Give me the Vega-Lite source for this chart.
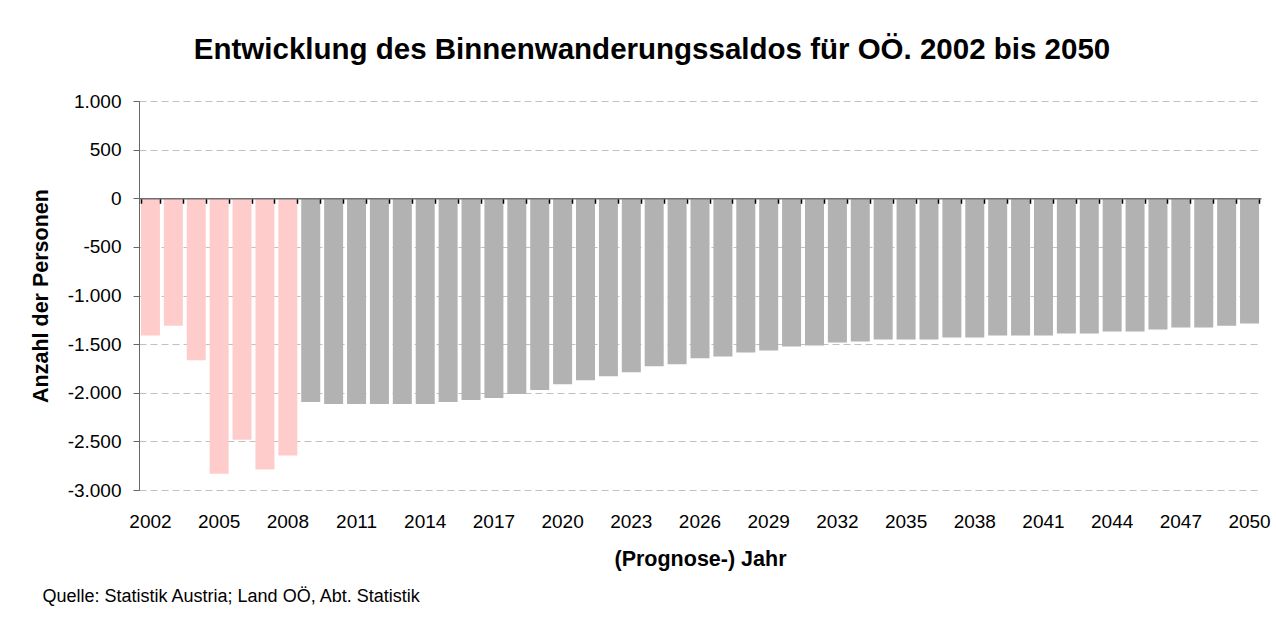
{
  "$schema": "https://vega.github.io/schema/vega-lite/v6.json",
  "width": 1122,
  "height": 389,
  "autosize": {"type": "none"},
  "padding": {"left": 139, "top": 101, "right": 15, "bottom": 129},
  "background": "white",
  "config": {"view": {"stroke": null}, "font": "Liberation Sans"},
  "title": {
    "text": "Entwicklung des Binnenwanderungssaldos für OÖ. 2002 bis 2050",
    "font": "Liberation Sans",
    "fontSize": 29.5,
    "fontWeight": "bold",
    "color": "black",
    "anchor": "middle",
    "frame": "group",
    "dx": -48,
    "offset": 27
  },
  "data": {
    "values": [
      {"jahr": 2002, "saldo": -1412, "typ": "Ist"},
      {"jahr": 2003, "saldo": -1310, "typ": "Ist"},
      {"jahr": 2004, "saldo": -1667, "typ": "Ist"},
      {"jahr": 2005, "saldo": -2833, "typ": "Ist"},
      {"jahr": 2006, "saldo": -2483, "typ": "Ist"},
      {"jahr": 2007, "saldo": -2789, "typ": "Ist"},
      {"jahr": 2008, "saldo": -2646, "typ": "Ist"},
      {"jahr": 2009, "saldo": -2095, "typ": "Prognose"},
      {"jahr": 2010, "saldo": -2116, "typ": "Prognose"},
      {"jahr": 2011, "saldo": -2116, "typ": "Prognose"},
      {"jahr": 2012, "saldo": -2116, "typ": "Prognose"},
      {"jahr": 2013, "saldo": -2116, "typ": "Prognose"},
      {"jahr": 2014, "saldo": -2116, "typ": "Prognose"},
      {"jahr": 2015, "saldo": -2095, "typ": "Prognose"},
      {"jahr": 2016, "saldo": -2075, "typ": "Prognose"},
      {"jahr": 2017, "saldo": -2054, "typ": "Prognose"},
      {"jahr": 2018, "saldo": -2014, "typ": "Prognose"},
      {"jahr": 2019, "saldo": -1973, "typ": "Prognose"},
      {"jahr": 2020, "saldo": -1912, "typ": "Prognose"},
      {"jahr": 2021, "saldo": -1871, "typ": "Prognose"},
      {"jahr": 2022, "saldo": -1830, "typ": "Prognose"},
      {"jahr": 2023, "saldo": -1789, "typ": "Prognose"},
      {"jahr": 2024, "saldo": -1728, "typ": "Prognose"},
      {"jahr": 2025, "saldo": -1707, "typ": "Prognose"},
      {"jahr": 2026, "saldo": -1646, "typ": "Prognose"},
      {"jahr": 2027, "saldo": -1626, "typ": "Prognose"},
      {"jahr": 2028, "saldo": -1585, "typ": "Prognose"},
      {"jahr": 2029, "saldo": -1565, "typ": "Prognose"},
      {"jahr": 2030, "saldo": -1524, "typ": "Prognose"},
      {"jahr": 2031, "saldo": -1514, "typ": "Prognose"},
      {"jahr": 2032, "saldo": -1483, "typ": "Prognose"},
      {"jahr": 2033, "saldo": -1473, "typ": "Prognose"},
      {"jahr": 2034, "saldo": -1452, "typ": "Prognose"},
      {"jahr": 2035, "saldo": -1452, "typ": "Prognose"},
      {"jahr": 2036, "saldo": -1452, "typ": "Prognose"},
      {"jahr": 2037, "saldo": -1432, "typ": "Prognose"},
      {"jahr": 2038, "saldo": -1432, "typ": "Prognose"},
      {"jahr": 2039, "saldo": -1412, "typ": "Prognose"},
      {"jahr": 2040, "saldo": -1412, "typ": "Prognose"},
      {"jahr": 2041, "saldo": -1412, "typ": "Prognose"},
      {"jahr": 2042, "saldo": -1391, "typ": "Prognose"},
      {"jahr": 2043, "saldo": -1391, "typ": "Prognose"},
      {"jahr": 2044, "saldo": -1371, "typ": "Prognose"},
      {"jahr": 2045, "saldo": -1371, "typ": "Prognose"},
      {"jahr": 2046, "saldo": -1350, "typ": "Prognose"},
      {"jahr": 2047, "saldo": -1330, "typ": "Prognose"},
      {"jahr": 2048, "saldo": -1330, "typ": "Prognose"},
      {"jahr": 2049, "saldo": -1310, "typ": "Prognose"},
      {"jahr": 2050, "saldo": -1289, "typ": "Prognose"}
    ]
  },
  "layer": [
    {
      "mark": {"type": "bar"},
      "encoding": {
        "x": {
          "field": "jahr",
          "type": "ordinal",
          "scale": {"paddingInner": 0.17, "paddingOuter": 0.085},
          "axis": {
            "orient": "bottom",
            "values": [2002, 2005, 2008, 2011, 2014, 2017, 2020, 2023, 2026, 2029, 2032, 2035, 2038, 2041, 2044, 2047, 2050],
            "labelAngle": 0,
            "labelFontSize": 19,
            "labelColor": "black",
            "labelPadding": 22,
            "ticks": false,
            "domain": false,
            "grid": false,
            "title": "(Prognose-) Jahr",
            "titleFontSize": 21.5,
            "titleFontWeight": "bold",
            "titleColor": "black",
            "titlePadding": 17
          }
        },
        "y": {
          "field": "saldo",
          "type": "quantitative",
          "scale": {"domain": [-3000, 1000], "nice": false, "zero": false},
          "axis": {
            "values": [-3000, -2500, -2000, -1500, -1000, -500, 0, 500, 1000],
            "labelExpr": "(datum.value < 0 ? '-' : '') + replace(format(abs(datum.value), ','), ',', '.')",
            "labelFontSize": 19,
            "labelColor": "black",
            "labelPadding": 12,
            "tickSize": 6,
            "tickColor": "#666666",
            "domainColor": "#666666",
            "grid": true,
            "gridColor": "#C0C0C0",
            "gridDash": [7, 4],
            "gridWidth": 1,
            "zindex": 0,
            "title": "Anzahl der Personen",
            "titleFontSize": 21.5,
            "titleFontWeight": "bold",
            "titleColor": "black",
            "titlePadding": 15
          }
        },
        "color": {
          "field": "typ",
          "type": "nominal",
          "scale": {"domain": ["Ist", "Prognose"], "range": ["#FFCCCC", "#B2B2B2"]},
          "legend": null
        }
      }
    },
    {
      "mark": {"type": "bar", "opacity": 0},
      "encoding": {
        "x": {
          "field": "jahr",
          "type": "ordinal",
          "axis": {
            "orient": "bottom",
            "offset": -291.75,
            "labels": false,
            "grid": false,
            "domain": true,
            "domainColor": "#707070",
            "domainWidth": 1.5,
            "ticks": true,
            "tickBand": "extent",
            "tickColor": "black",
            "tickSize": 5,
            "tickWidth": 1.5,
            "zindex": 2,
            "title": "Quelle: Statistik Austria; Land OÖ, Abt. Statistik",
            "titleX": -97,
            "titleY": 398,
            "titleAlign": "left",
            "titleAnchor": "start",
            "titleBaseline": "middle",
            "titleFontSize": 18,
            "titleFontWeight": "normal",
            "titleColor": "black"
          }
        },
        "y": {"field": "saldo", "type": "quantitative", "axis": null}
      }
    }
  ],
  "resolve": {"axis": {"x": "independent", "y": "independent"}}
}
